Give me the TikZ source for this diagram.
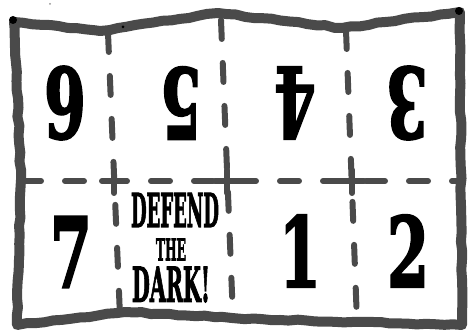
\documentclass[tikz,border=0pt]{standalone}
\usepackage{fontspec}
\newfontfamily\slabfont{DejaVu Serif}[BoldFeatures={FakeBold=2.5}]
\definecolor{pencil}{HTML}{4A4A4A}
\usetikzlibrary{positioning, decorations.pathmorphing}
\newcommand{\bignum}[1]{{\slabfont\bfseries\fontsize{97}{97}\selectfont\scalebox{0.62}[1]{#1}}}
\newcommand{\poster}[3]{{\slabfont\bfseries\resizebox{#1}{#2}{#3}}}

\begin{document}
\begin{tikzpicture}[
  x=1pt, y=-1pt,
  sheet/.style={draw=pencil, line width=10pt, line join=round, line cap=round,
    decorate, decoration={random steps, segment length=9pt, amplitude=0.8pt}},
  fold/.style={draw=pencil, line width=6pt, line cap=round,
    dash pattern=on 19pt off 24pt},
  foldcross/.style={draw=pencil, line width=6pt, line cap=round},
  digit/.style={inner sep=0pt, text=black},
  flipped/.style={digit, rotate=180}
]
  \fill[white] (0,0) rectangle (472,336);
  \useasboundingbox (0,0) rectangle (472,336);
  \pgfmathsetseed{7}

  % outer sheet
  \draw[sheet] (14,22) -- (100,31) -- (218,13) -- (342,28) -- (460,12)
    -- (461,170) -- (462,325) -- (352,322) -- (232,318) -- (125,312)
    -- (17,325) -- (21,180) -- cycle;
  \fill[black] (13,20) circle (4) (459,11) circle (4) (123,27) circle (1.5);
  \fill[pencil!60] (50,4) circle (1);

  % folds
  \draw[fold] (108,33) -- (120,316);
  \draw[fold] (221,20) -- (233,318);
  \draw[fold] (346,30) -- (357,322);
  \draw[fold] (22,181) -- (460,181);
  \foreach \x in {114,227,352}
    \draw[foldcross] (\x-12,181) -- (\x+12,181) (\x,170) -- (\x,193);

  % pages
  \node[flipped] (six) at (65,103) {\bignum{6}};
  \node[flipped] (five) at (181,103) {\bignum{5}};
  \node[flipped] (four) at (295,103) {\bignum{4}};
  \node[flipped] (three) at (407,103) {\bignum{3}};
  \node[digit] (seven) at (71,252) {\bignum{7}};
  \node[digit] (one) at (300,251) {\bignum{1}};
  \node[digit] (two) at (408,251) {\bignum{2}};

  \node[digit] (defend) at (175,210) {\poster{88pt}{34pt}{DEFEND}};
  \node[digit, below=11pt of defend, xshift=-4pt] (the) {\poster{30pt}{22pt}{THE}};
  \node[digit, below=6pt of the] (dark) {\poster{78pt}{35pt}{DARK!}};
\end{tikzpicture}
\end{document}
